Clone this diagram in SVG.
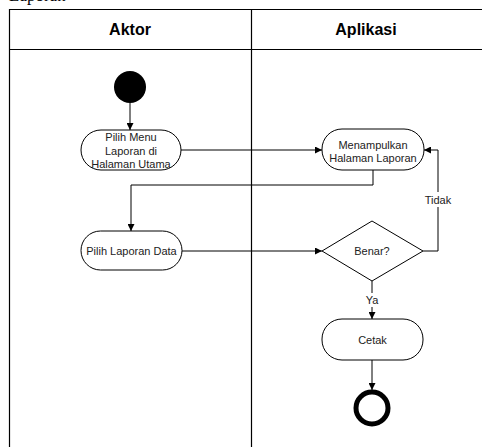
<svg xmlns="http://www.w3.org/2000/svg" width="482" height="447" viewBox="0 0 482 447">
  <defs>
    <marker id="arrow" viewBox="0 0 10 10" refX="10" refY="5" markerWidth="7" markerHeight="7" markerUnits="userSpaceOnUse" orient="auto">
      <path d="M0,0 L10,5 L0,10 Z" fill="#000"/>
    </marker>
  </defs>
  <style>
    .lane { fill: none; stroke: #000; stroke-width: 1.2; }
    .head { font-family: "Liberation Sans", Arial, sans-serif; font-weight: bold; font-size: 16px; fill: #000; text-anchor: middle; }
    .act { fill: #fff; stroke: #000; stroke-width: 1; }
    .lbl { font-family: "Liberation Sans", Arial, sans-serif; font-size: 11px; fill: #222; text-anchor: middle; }
    .edge { fill: none; stroke: #000; stroke-width: 1; marker-end: url(#arrow); }
  </style>
  <rect width="482" height="447" fill="#fff"/>

  <!-- caption line running off the top edge -->
  <text x="9" y="0.8" font-family="Liberation Serif, 'Times New Roman', serif" font-size="17" fill="#000">Laporan</text>

  <!-- swimlanes -->
  <g id="lanes">
    <path class="lane" d="M9.5,447 V9.5 H482"/>
    <path class="lane" d="M9.5,49.5 H482"/>
    <path class="lane" d="M251.5,9.5 V447"/>
    <text class="head" x="130" y="35">Aktor</text>
    <text class="head" x="366" y="35">Aplikasi</text>
  </g>

  <!-- connectors -->
  <g id="connectors">
    <path class="edge" d="M130,103 V130"/>
    <path class="edge" d="M181,150 H322"/>
    <path class="edge" d="M373,170 V185 H131 V231"/>
    <path class="edge" d="M182,251 H322"/>
    <path class="edge" d="M423,251 H438 V150 H424"/>
    <path class="edge" d="M372,281 V319"/>
    <path class="edge" d="M372,360 V390"/>
    <rect x="424" y="192" width="28" height="15" fill="#fff"/>
    <text class="lbl" x="438" y="204">Tidak</text>
    <rect x="364" y="293" width="16" height="14" fill="#fff"/>
    <text class="lbl" x="372" y="304">Ya</text>
  </g>

  <!-- nodes -->
  <g id="start">
    <circle cx="130" cy="87" r="16" fill="#000"/>
  </g>

  <g id="pilih-menu">
    <rect class="act" x="81" y="130" width="100" height="40" rx="20" ry="20"/>
    <text class="lbl" x="131" y="141">Pilih Menu</text>
    <text class="lbl" x="131" y="154.5">Laporan di</text>
    <text class="lbl" x="131" y="168">Halaman Utama</text>
  </g>

  <g id="menampilkan">
    <rect class="act" x="322" y="129" width="102" height="41" rx="20" ry="20"/>
    <text class="lbl" x="373" y="149">Menampulkan</text>
    <text class="lbl" x="373" y="161.5">Halaman Laporan</text>
  </g>

  <g id="pilih-laporan">
    <rect class="act" x="81" y="231" width="101" height="39" rx="19.5" ry="19.5"/>
    <text class="lbl" x="131.5" y="255">Pilih Laporan Data</text>
  </g>

  <g id="benar">
    <path class="act" d="M372,221 L423,251 L372,281 L322,251 Z"/>
    <text class="lbl" x="372" y="255">Benar?</text>
  </g>

  <g id="cetak">
    <rect class="act" x="322" y="319" width="101" height="41" rx="20" ry="20"/>
    <text class="lbl" x="372.5" y="343.5">Cetak</text>
  </g>

  <g id="end">
    <circle cx="372" cy="408" r="16" fill="#fff" stroke="#000" stroke-width="5"/>
  </g>
</svg>
